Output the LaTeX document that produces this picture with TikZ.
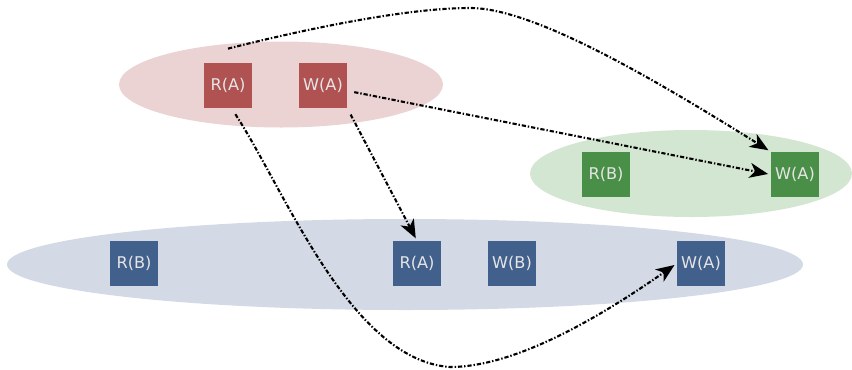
\documentclass[tikz,border=0pt]{standalone}
\usepackage{fontspec}
\setmainfont{DejaVu Sans}
\usetikzlibrary{arrows.meta}
\definecolor{redbox}{HTML}{B05252}
\definecolor{redbg}{HTML}{EBD3D4}
\definecolor{greenbox}{HTML}{4A8F48}
\definecolor{greenbg}{HTML}{D3E6D2}
\definecolor{bluebox}{HTML}{42608C}
\definecolor{bluebg}{HTML}{D3D9E5}
\tikzstyle{op}=[rectangle, minimum width=0.96cm, minimum height=0.9cm, inner sep=0pt, text=white!90!black, font=\fontsize{9.2}{11}\selectfont]
\tikzstyle{dep}=[line width=1.2pt, dash pattern=on 2.4pt off 1.1pt on 0.8pt off 1.1pt, -{Stealth[length=10.5pt,width=8.5pt,inset=3pt]}, shorten <=4pt, shorten >=1.5pt]

\begin{document}
\begin{tikzpicture}[x=0.02cm, y=-0.02cm]
    \useasboundingbox (0,0) rectangle (852,369);

    % groups
    \fill[redbg] (281,84.5) ellipse (162 and 43);
    \fill[greenbg] (691,173.5) ellipse (161 and 43.5);
    \fill[bluebg] (405,264.5) ellipse (398 and 45.5);

    \node[op, fill=redbox] (ra) at (228,85.5) {R(A)};
    \node[op, fill=redbox] (wa) at (323,85.5) {W(A)};

    \node[op, fill=greenbox] (grb) at (606,174.5) {R(B)};
    \node[op, fill=greenbox] (gwa) at (795,174.5) {W(A)};

    \foreach \t/\x [count = \i] in {R(B)/134, R(A)/417, W(B)/512, W(A)/701}{
        \node[op, fill=bluebox] (b\i) at (\x,263.5) {\t};
        }

    \draw[dep, shorten <=0pt] ([yshift=8pt]ra.north) .. controls (290,33) and (400,8) .. (470,8)
        .. controls (530,8) and (640,70) .. (gwa.north west);
    \draw[dep] ([yshift=-3pt]wa.east) -- (gwa.west);
    \draw[dep] (wa.south east) -- (b2.north);
    \draw[dep] ([xshift=2pt]ra.south) .. controls (285,190) and (350,360) .. (450,367)
        .. controls (520,367) and (610,310) .. (b4.west);

\end{tikzpicture}
\end{document}
